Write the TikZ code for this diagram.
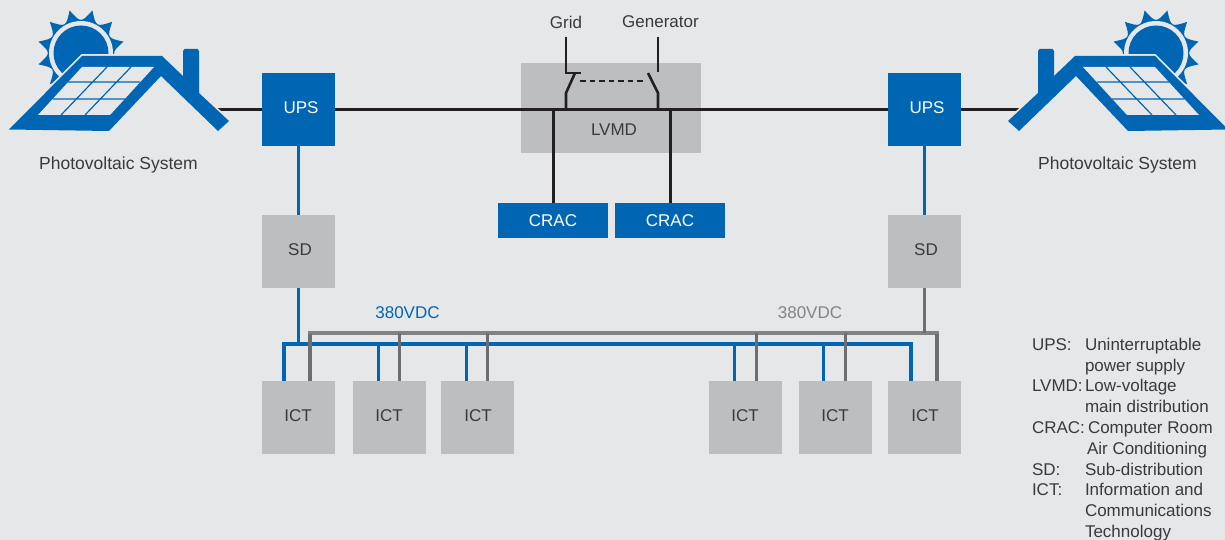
\documentclass[tikz,border=0pt]{standalone}
\usepackage{fontspec}
\setmainfont{Liberation Sans}
\definecolor{pagebg}{HTML}{E6E7E8}
\definecolor{boxgray}{HTML}{BCBEC0}
\definecolor{brandblue}{HTML}{0066B3}
\definecolor{inkdark}{HTML}{231F20}
\definecolor{wiregray}{HTML}{6D6E71}
\definecolor{busgray}{HTML}{808285}
\definecolor{txtdark}{HTML}{3A3A3C}
\newcommand{\roofpath}{(9,129.5) -- (82,56) -- (162,56) -- (183,76) -- (183,51) -- (184.5,49) -- (197.5,49) -- (199,51) -- (199,93)
    -- (229,121) -- (218,131) -- (161,76) -- (109,131) -- cycle}
\newcommand{\pvhouse}{%
  \begin{scope}[shift={(81,53)}]
    \fill[brandblue] (15:44) \foreach \a in {15,45,...,345} { .. controls ({\a+15}:30) .. ({\a+30}:44) } -- cycle;
    \fill[pagebg] (0,0) circle[radius=32];
    \fill[brandblue] (0,0) circle[radius=27.5];
  \end{scope}
  \draw[pagebg,line width=3.5pt] \roofpath;
  \fill[brandblue] \roofpath;
  \fill[pagebg] (38,115) -- (82,67) -- (154,67) -- (110,115) -- cycle;
  \draw[brandblue,line width=1.2pt] (107,67) -- (61,115) (131,67) -- (85,115) (68,82) -- (140,82) (52.5,99) -- (125,99);
}
\tikzset{
  box/.style={inner sep=0pt,outer sep=0pt,minimum width=73pt,minimum height=73pt,text=txtdark,font=\fontsize{17}{20}\selectfont},
  graybox/.style={box,fill=boxgray},
  bluebox/.style={box,fill=brandblue,text=white},
  cracbox/.style={box,fill=brandblue,text=white,minimum width=110pt,minimum height=35pt},
  txt/.style={inner sep=0pt,outer sep=0pt,text=txtdark,font=\fontsize{17}{20}\selectfont},
  pvtxt/.style={txt,font=\fontsize{17.5}{20}\selectfont},
  legend/.style={txt,anchor=base west},
  mainwire/.style={inkdark,line width=3pt},
  switchwire/.style={inkdark,line width=2.6pt},
  bluewire/.style={brandblue,line width=3.2pt},
  graywire/.style={wiregray,line width=3.2pt},
  graybus/.style={busgray,line width=3.2pt,line join=miter},
}
\begin{document}
\begin{tikzpicture}[x=1pt,y=-1pt]
\useasboundingbox (0,0) rectangle (1225,540);
\fill[pagebg] (0,0) rectangle (1225,540);

% nodes
\node[graybox,minimum width=180pt,minimum height=90pt] (lvmd) at (611,108) {};
\node[txt] (lvmdtxt) at (614,130) {LVMD};
\coordinate (houseL) at (217,109.5);
\coordinate (houseR) at (1020,109.5);
\node[bluebox] (upsL) at (298.5,109.5) {};
\node[bluebox] (upsR) at (924.5,109.5) {};
\node[graybox] (sdL) at (298.5,251.5) {};
\node[graybox] (sdR) at (924.5,251.5) {};
\node[cracbox] (cracA) at (553,220.5) {};
\node[cracbox] (cracB) at (670,220.5) {};
\node[graybox] (ict1) at (298.5,417.5) {};
\node[graybox] (ict2) at (389.5,417.5) {};
\node[graybox] (ict3) at (477.5,417.5) {};
\node[graybox] (ict4) at (745.5,417.5) {};
\node[graybox] (ict5) at (835.5,417.5) {};
\node[graybox] (ict6) at (924.5,417.5) {};

% main line and switchgear
\coordinate (tapA) at (553.5,109.5);
\coordinate (tapB) at (670.5,109.5);
\coordinate (gridTop) at (566,37);
\coordinate (genTop) at (658,37);
\draw[mainwire] (houseL) -- (upsL) -- (upsR) -- (houseR);
\draw[mainwire] (tapA) -- (cracA.north -| tapA);
\draw[mainwire] (tapB) -- (cracB.north -| tapB);
\draw[switchwire] (gridTop) -- (566,73) -- (581,73);
\draw[switchwire] (575,73) -- (566,93) -- (566,109);
\draw[switchwire] (genTop) -- (658,72.5);
\draw[switchwire] (648,73) -- (658,93) -- (658,109);
\draw[switchwire,dash pattern=on 5.5pt off 4pt] (580,81) -- (646,81);

% buses
\coordinate (bbL) at (284,344);
\coordinate (bbR) at (911,344);
\coordinate (gbL) at (310,333);
\coordinate (gbR) at (937,333);
\coordinate (b2) at (378.5,344);
\coordinate (b3) at (466.5,344);
\coordinate (b4) at (734.5,344);
\coordinate (b5) at (823.5,344);
\coordinate (g2) at (399.5,333);
\coordinate (g3) at (487.5,333);
\coordinate (g4) at (756.5,333);
\coordinate (g5) at (845.5,333);

\draw[bluewire] (upsL) -- (sdL);
\draw[bluewire] (upsR.south) -- (sdR.north);
\draw[bluewire] (sdL.south) -- (sdL.south |- bbL);
\draw[bluewire,line join=miter] (ict1.north -| bbL) -- (bbL) -- (bbR) -- (ict6.north -| bbR);
\draw[bluewire] (b2) -- (ict2.north -| b2);
\draw[bluewire] (b3) -- (ict3.north -| b3);
\draw[bluewire] (b4) -- (ict4.north -| b4);
\draw[bluewire] (b5) -- (ict5.north -| b5);

\draw[graybus] (ict1.north -| gbL) -- (gbL) -- (gbR) -- (ict6.north -| gbR);
\draw[graywire] (ict1.north -| gbL) -- ([yshift=-1pt]gbL);
\draw[graywire] (ict6.north -| gbR) -- ([yshift=-1pt]gbR);
\draw[graywire] (g2) -- (ict2.north -| g2);
\draw[graywire] (g3) -- (ict3.north -| g3);
\draw[graywire] (g4) -- (ict4.north -| g4);
\draw[graywire] (g5) -- (ict5.north -| g5);
\draw[graywire] (sdR.south) -- (sdR.south |- gbR);

% box captions
\node[txt,text=white] (upsLt) at (301,108) {UPS};
\node[txt,text=white] (upsRt) at (927,108) {UPS};
\node[txt] (sdLt) at (300,250) {SD};
\node[txt] (sdRt) at (926,250) {SD};
\node[txt,text=white] (cracAt) at (553,221) {CRAC};
\node[txt,text=white] (cracBt) at (670,221) {CRAC};
\node[txt] (i1) at (298,416) {ICT};
\node[txt] (i2) at (389,416) {ICT};
\node[txt] (i3) at (478,416) {ICT};
\node[txt] (i4) at (745,416) {ICT};
\node[txt] (i5) at (835,416) {ICT};
\node[txt] (i6) at (925,416) {ICT};

% labels
\node[txt] (grid) at (566,22) {Grid};
\node[txt] (gen) at (660.5,22) {Generator};
\node[pvtxt] (pvL) at (118.5,165) {Photovoltaic System};
\node[pvtxt] (pvR) at (1117.5,165) {Photovoltaic System};
\node[txt,text=brandblue] (vL) at (407.5,313) {380VDC};
\node[txt,text=wiregray!85] (vR) at (810,313) {380VDC};

% legend
\node[legend] (l1a) at (1032,350) {UPS:};
\node[legend] (l1b) at (1085,350) {Uninterruptable};
\node[legend] (l2) at (1085,371) {power supply};
\node[legend] (l3a) at (1032,391) {LVMD:};
\node[legend] (l3b) at (1085,391) {Low-voltage};
\node[legend] (l4) at (1085,412) {main distribution};
\node[legend] (l5a) at (1032,433) {CRAC:};
\node[legend] (l5b) at (1088,433) {Computer Room};
\node[legend] (l6) at (1087,454) {Air Conditioning};
\node[legend] (l7a) at (1032,475) {SD:};
\node[legend] (l7b) at (1085,475) {Sub-distribution};
\node[legend] (l8a) at (1032,495) {ICT:};
\node[legend] (l8b) at (1085,495) {Information and};
\node[legend] (l9) at (1085,516) {Communications};
\node[legend] (l10) at (1085,537) {Technology};

% houses
\begin{scope}
  \clip (0,0) rectangle (1225,540);
  \pvhouse
  \begin{scope}[shift={(1237,0)},xscale=-1]
    \pvhouse
  \end{scope}
\end{scope}
\end{tikzpicture}
\end{document}
